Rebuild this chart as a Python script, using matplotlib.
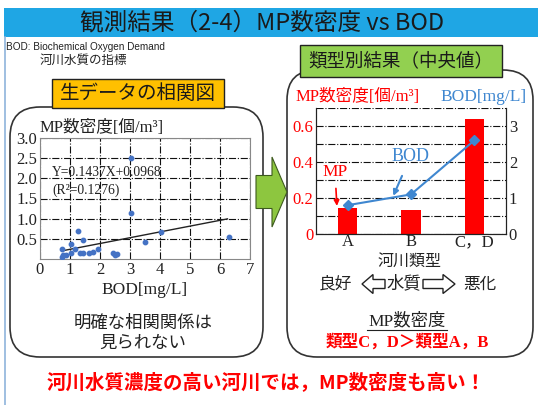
import matplotlib
matplotlib.use("Agg")
import matplotlib.pyplot as plt
from matplotlib.patches import FancyBboxPatch, Rectangle, FancyArrow
import numpy as np

plt.rcParams['font.family'] = ['Noto Sans CJK JP', 'DejaVu Sans']
SERIF = ['Liberation Serif', 'Noto Sans CJK JP']

# 生データ (BOD [mg/L], MP数密度 [個/m3])
bod_raw = [0.73, 0.74, 0.77, 0.86, 1.04, 1.04, 1.17, 1.26, 1.44, 1.33, 1.44,
           1.64, 1.76, 1.94, 2.44, 2.50, 2.58, 3.50, 4.02, 6.29, 3.02, 3.02]
mp_raw = [0.26, 0.06, 0.09, 0.11, 0.16, 0.37, 0.24, 0.69, 0.47, 0.14, 0.14,
          0.14, 0.17, 0.24, 0.14, 0.11, 0.12, 0.43, 0.68, 0.55, 2.50, 1.15]
fit_slope = 0.1437
fit_icept = 0.0968
fit_r2 = 0.1276
fit_range = [0.8, 6.25]

# 類型別 中央値
types = ['A', 'B', 'C，D']
mp_median = [0.145, 0.135, 0.64]
bod_median = [0.80, 1.10, 2.60]

W, H = 538, 405
fig = plt.figure(figsize=(W / 100, H / 100), dpi=100)

def px_rect(x0, y0, x1, y1):
    return [x0 / W, 1 - y1 / H, (x1 - x0) / W, (y1 - y0) / H]

# 背景 (pixel座標)
bg = fig.add_axes([0, 0, 1, 1], zorder=0)
bg.set_xlim(0, W)
bg.set_ylim(H, 0)
bg.axis('off')

bg.add_patch(Rectangle((4, 8), W - 4, 29, color='#1FA6E4', lw=0))
bg.plot([4.5, 4.5], [37, H], color='#8FB4DC', lw=1.2)
bg.text(262, 22.5, '観測結果（2-4）MP数密度 vs BOD', fontsize=17,
        ha='center', va='center', color='#1a1a1a')
bg.text(6, 47, 'BOD: Biochemical Oxygen Demand', fontsize=7.2,
        family=['Liberation Sans'], va='center', color='#222222')
bg.text(40, 60, '河川水質の指標', fontsize=9, va='center', color='#222222')

# 枠
bg.add_patch(FancyBboxPatch((10, 107), 253, 250, boxstyle='round,pad=0,rounding_size=30',
                            fc='white', ec='#333333', lw=1.2))
bg.add_patch(FancyBboxPatch((287, 70), 246, 287, boxstyle='round,pad=0,rounding_size=30',
                            fc='white', ec='#333333', lw=1.2))
bg.add_patch(Rectangle((52, 79), 172, 29, fc='#FFC000', ec='#222222', lw=1))
bg.text(138, 93.5, '生データの相関図', fontsize=14, ha='center', va='center', color='#1a1a1a')
bg.add_patch(Rectangle((300, 45), 202, 32, fc='#92D050', ec='#222222', lw=1))
bg.text(401, 61, '類型別結果（中央値）', fontsize=13.3, ha='center', va='center', color='#1a1a1a')

bg.add_patch(FancyArrow(256, 192, 31, 0, width=33, head_width=70, head_length=15,
                        length_includes_head=True, fc='#8DC63F', ec='#3d5a1e', lw=0.8))

bg.text(143, 323, '明確な相関関係は', fontsize=12.5, ha='center', va='center', color='#222222')
bg.text(143, 343, '見られない', fontsize=12.5, ha='center', va='center', color='#222222')

bg.text(410, 261, '河川類型', fontsize=11.5, ha='center', va='center', color='#222222')
bg.text(335, 284, '良好', fontsize=12, ha='center', va='center', color='#222222')
bg.text(404, 283, '水質', fontsize=12.5, ha='center', va='center', color='#222222')
bg.text(480, 284, '悪化', fontsize=12, ha='center', va='center', color='#222222')
bg.add_patch(FancyArrow(385, 284, -23, 0, width=9, head_width=19, head_length=11,
                        length_includes_head=True, fc='white', ec='#222222', lw=1))
bg.add_patch(FancyArrow(423, 284, 32, 0, width=9, head_width=19, head_length=12,
                        length_includes_head=True, fc='white', ec='#222222', lw=1))

bg.text(407, 321, 'MP数密度', fontsize=12.5, family=SERIF, ha='center', va='center',
        color='#222222')
bg.plot([367, 447], [330, 330], color='#222222', lw=0.8)
bg.text(407, 342, '類型C，D＞類型A，B', fontsize=12, family=SERIF,
        weight='bold', ha='center', va='center', color='#FF0000')

bg.text(266, 382, '河川水質濃度の高い河川では，MP数密度も高い！', fontsize=14,
        weight='bold', ha='center', va='center', color='#FF0000')

# 散布図
ax1 = fig.add_axes(px_rect(40, 138, 250, 259), zorder=1)
ax1.scatter(bod_raw, mp_raw, s=10, color='#4472C4', zorder=3)
xf = np.array(fit_range)
ax1.plot(xf, fit_slope * xf + fit_icept, color='#222222', lw=1, zorder=2)
ax1.set_xlim(0, 7)
ax1.set_ylim(0, 3.0)
ax1.set_xticks(range(0, 8))
ax1.set_yticks([0.5, 1.0, 1.5, 2.0, 2.5, 3.0])
ax1.set_yticklabels(['0.5', '1.0', '1.5', '2.0', '2.5', '3.0'])
ax1.grid(True, color='#111111', ls='-.', lw=0.8)
for s in ax1.spines.values():
    s.set_color('#888888')
ax1.tick_params(length=0, labelsize=12, pad=2, colors='#222222')
for lab in ax1.get_xticklabels() + ax1.get_yticklabels():
    lab.set_family(SERIF)
ax1.text(0.4, 2.15, f'Y={fit_slope}X+{fit_icept}', fontsize=9.8, family=SERIF,
         va='center', color='#222222', zorder=4)
ax1.text(0.4, 1.7, f'(R²={fit_r2})', fontsize=9.8, family=SERIF,
         va='center', color='#222222', zorder=4)
ax1.text(0, 3.05, 'MP数密度[個/m³]', fontsize=12, family=SERIF, va='bottom',
         color='#222222')
ax1.set_xlabel('BOD[mg/L]', fontsize=12.5, family=SERIF, labelpad=3, color='#222222')

# 類型別棒グラフ
ax2 = fig.add_axes(px_rect(316, 108, 506, 234), zorder=1)
ax2.set_facecolor('none')
x = np.arange(len(types))
ax2.bar(x, mp_median, width=0.31, color='#FF0000', zorder=2)
ax2.set_xlim(-0.5, 2.5)
ax2.set_ylim(0, 0.7)
ax2.set_yticks([0, 0.2, 0.4, 0.6])
ax2.set_yticklabels(['0', '0.2', '0.4', '0.6'])
ax2.set_yticks(np.arange(0.1, 0.71, 0.1), minor=True)
ax2.grid(True, axis='y', which='both', color='#111111', ls='-.', lw=0.8)
ax2.set_xticks(x)
ax2.set_xticklabels(types)
ax2.tick_params(length=0, labelsize=12, pad=0)
ax2.tick_params(axis='y', which='both', length=0, colors='#FF0000', pad=2)
ax2.tick_params(axis='x', colors='#222222')
for lab in ax2.get_xticklabels() + ax2.get_yticklabels():
    lab.set_family(SERIF)
ax2.spines['top'].set_visible(False)
ax2.spines['bottom'].set_color('#222222')
ax2.spines['left'].set_color('#222222')

ax3 = ax2.twinx()
ax3.plot(x, bod_median, color='#3F87D0', lw=1.5, marker='D', ms=5, zorder=3)
ax3.set_ylim(0, 3.5)
ax3.set_yticks([0, 1, 2, 3])
ax3.tick_params(length=0, labelsize=12, pad=2, colors='#222222')
for lab in ax3.get_yticklabels():
    lab.set_family(SERIF)
for s in ax3.spines.values():
    s.set_color('#222222')
ax3.spines['top'].set_visible(False)

ax3.annotate('MP', xy=(-0.17, 0.156 * 5), xytext=(-0.2, 1.72),
             fontsize=12.5, family=SERIF, color='#FF0000', ha='center', va='center',
             arrowprops=dict(arrowstyle='-|>', color='#FF0000', lw=1.2,
                             mutation_scale=8, shrinkA=4, shrinkB=0))
ax3.annotate('BOD', xy=(0.72, 1.06), xytext=(0.99, 2.14),
             fontsize=13, family=SERIF, color='#3F87D0', ha='center', va='center',
             arrowprops=dict(arrowstyle='-|>', color='#3F87D0', lw=1.5,
                             mutation_scale=8, shrinkA=6, shrinkB=0))

bg.text(296, 97, 'MP数密度[個/m³]', fontsize=12, family=SERIF, va='center',
        color='#FF0000')
bg.text(440, 97, 'BOD[mg/L]', fontsize=12.5, family=SERIF, va='center',
        color='#3F87D0')

fig.savefig('out.png', dpi=100)
